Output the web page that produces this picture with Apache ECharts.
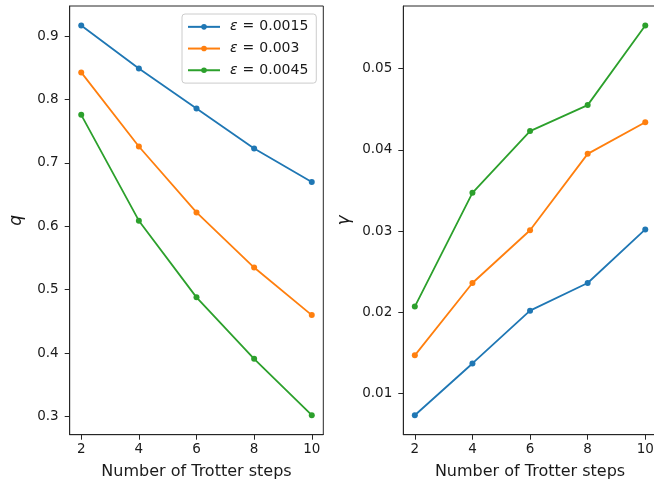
<!DOCTYPE html>
<html>
<head>
<meta charset="utf-8">
<script src="https://cdn.jsdelivr.net/npm/echarts@6/dist/echarts.min.js"></script>
<style>html,body{margin:0;padding:0;background:#fff}#c{width:654px;height:487px}</style>
</head>
<body>
<div id="c"></div>
<script>
// ---- data ----
const steps = [2, 4, 6, 8, 10];
const epsilons = ['0.0015', '0.003', '0.0045'];
const colors = ['#1f77b4', '#ff7f0e', '#2ca02c'];
const qBlue = [0.917, 0.849, 0.786, 0.723, 0.670];
const qOrange = [0.843, 0.726, 0.622, 0.535, 0.460];
const qGreen = [0.776, 0.609, 0.488, 0.391, 0.302];
const gBlue = [0.00733, 0.0137, 0.0202, 0.0236, 0.0302];
const gOrange = [0.0147, 0.0236, 0.0301, 0.0395, 0.0434];
const gGreen = [0.0207, 0.0347, 0.0423, 0.0455, 0.0553];
const xTicks = [2, 4, 6, 8, 10];
const qTicks = [0.3, 0.4, 0.5, 0.6, 0.7, 0.8, 0.9];
const gTicks = [0.01, 0.02, 0.03, 0.04, 0.05];
const xLabel = 'Number of Trotter steps';

const qSets = [qBlue, qOrange, qGreen];
const gSets = [gBlue, gOrange, gGreen];
const names = epsilons.map(e => 'ε = ' + e);

function lims(sets) {
  const all = [].concat(...sets);
  const lo = Math.min(...all), hi = Math.max(...all), r = hi - lo;
  return [lo - 0.05 * r, hi + 0.05 * r];
}
const xr = [Math.min(...steps), Math.max(...steps)];
const xMin = xr[0] - 0.05 * (xr[1] - xr[0]), xMax = xr[1] + 0.05 * (xr[1] - xr[0]);
const qL = lims(qSets), gL = lims(gSets);

const FONT = 'DejaVu Sans';
const TXT = '#1a1a1a';
const AX = '#262626';

function xAxis(gi) {
  return {
    type: 'value', gridIndex: gi, min: xMin, max: xMax,
    name: xLabel, nameLocation: 'middle', nameGap: 29,
    nameTextStyle: { fontFamily: FONT, fontSize: 16, color: TXT },
    axisLine: { show: true, onZero: false, lineStyle: { color: AX, width: 1 } },
    axisTick: { show: true, inside: false, length: 5, customValues: xTicks, lineStyle: { color: AX, width: 1 } },
    axisLabel: { customValues: xTicks, margin: 8, fontFamily: FONT, fontSize: 13.5, color: TXT },
    splitLine: { show: false }
  };
}
function yAxis(gi, L, ticks, dec, nm) {
  return {
    type: 'value', gridIndex: gi, min: L[0], max: L[1],
    name: nm, nameLocation: 'middle', nameGap: dec === 1 ? 45 : 50, nameRotate: 90,
    nameTextStyle: { fontFamily: FONT, fontSize: 17, fontStyle: 'italic', color: TXT },
    axisLine: { show: true, onZero: false, lineStyle: { color: AX, width: 1 } },
    axisTick: { show: true, inside: false, length: 5, customValues: ticks, lineStyle: { color: AX, width: 1 } },
    axisLabel: { customValues: ticks, margin: 11, fontFamily: FONT, fontSize: 13.5, color: TXT,
      formatter: v => Number(v).toFixed(dec) },
    splitLine: { show: false }
  };
}

const series = [];
[qSets, gSets].forEach((sets, gi) => {
  sets.forEach((vals, k) => {
    series.push({
      type: 'line', name: names[k], xAxisIndex: gi, yAxisIndex: gi,
      data: steps.map((s, i) => [s, vals[i]]),
      symbol: 'circle', symbolSize: 6, showSymbol: true,
      lineStyle: { color: colors[k], width: 1.8 },
      itemStyle: { color: colors[k], borderWidth: 0 },
      emphasis: { disabled: true }, z: 2 + k
    });
  });
});

const chart = echarts.init(document.getElementById('c'), null, { renderer: 'canvas' });
chart.setOption({
  animation: false,
  backgroundColor: '#fff',
  grid: [
    { left: 69.7, right: 330.7, top: 6, bottom: 52.3, show: true, borderColor: AX, borderWidth: 1, backgroundColor: 'transparent', containLabel: false, outerBoundsMode: 'none' },
    { left: 403.3, right: -2.8, top: 6, bottom: 52.3, show: true, borderColor: AX, borderWidth: 1, backgroundColor: 'transparent', containLabel: false, outerBoundsMode: 'none' }
  ],
  xAxis: [xAxis(0), xAxis(1)],
  yAxis: [yAxis(0, qL, qTicks, 1, 'q'), yAxis(1, gL, gTicks, 2, 'γ')],
  legend: {
    data: names, orient: 'vertical', left: 182, top: 14,
    itemWidth: 32, itemHeight: 7, itemGap: 0,
    padding: [2, 8, 2, 5],
    backgroundColor: 'rgba(255,255,255,0.8)', borderColor: '#cccccc', borderWidth: 1, borderRadius: 3,
    selectedMode: false,
    formatter: n => n.replace('ε = ', '{e|ε}{q|=}'),
    textStyle: { fontFamily: FONT, fontSize: 14, color: TXT, lineHeight: 21.7, padding: [0, 0, 0, 5],
      rich: {
        e: { fontFamily: FONT, fontSize: 14, fontStyle: 'italic', color: TXT, lineHeight: 21.7 },
        q: { fontFamily: FONT, fontSize: 14, color: TXT, lineHeight: 21.7, padding: [0, 5, 0, 5] }
      } }
  },
  series: series
});
</script>
</body>
</html>
